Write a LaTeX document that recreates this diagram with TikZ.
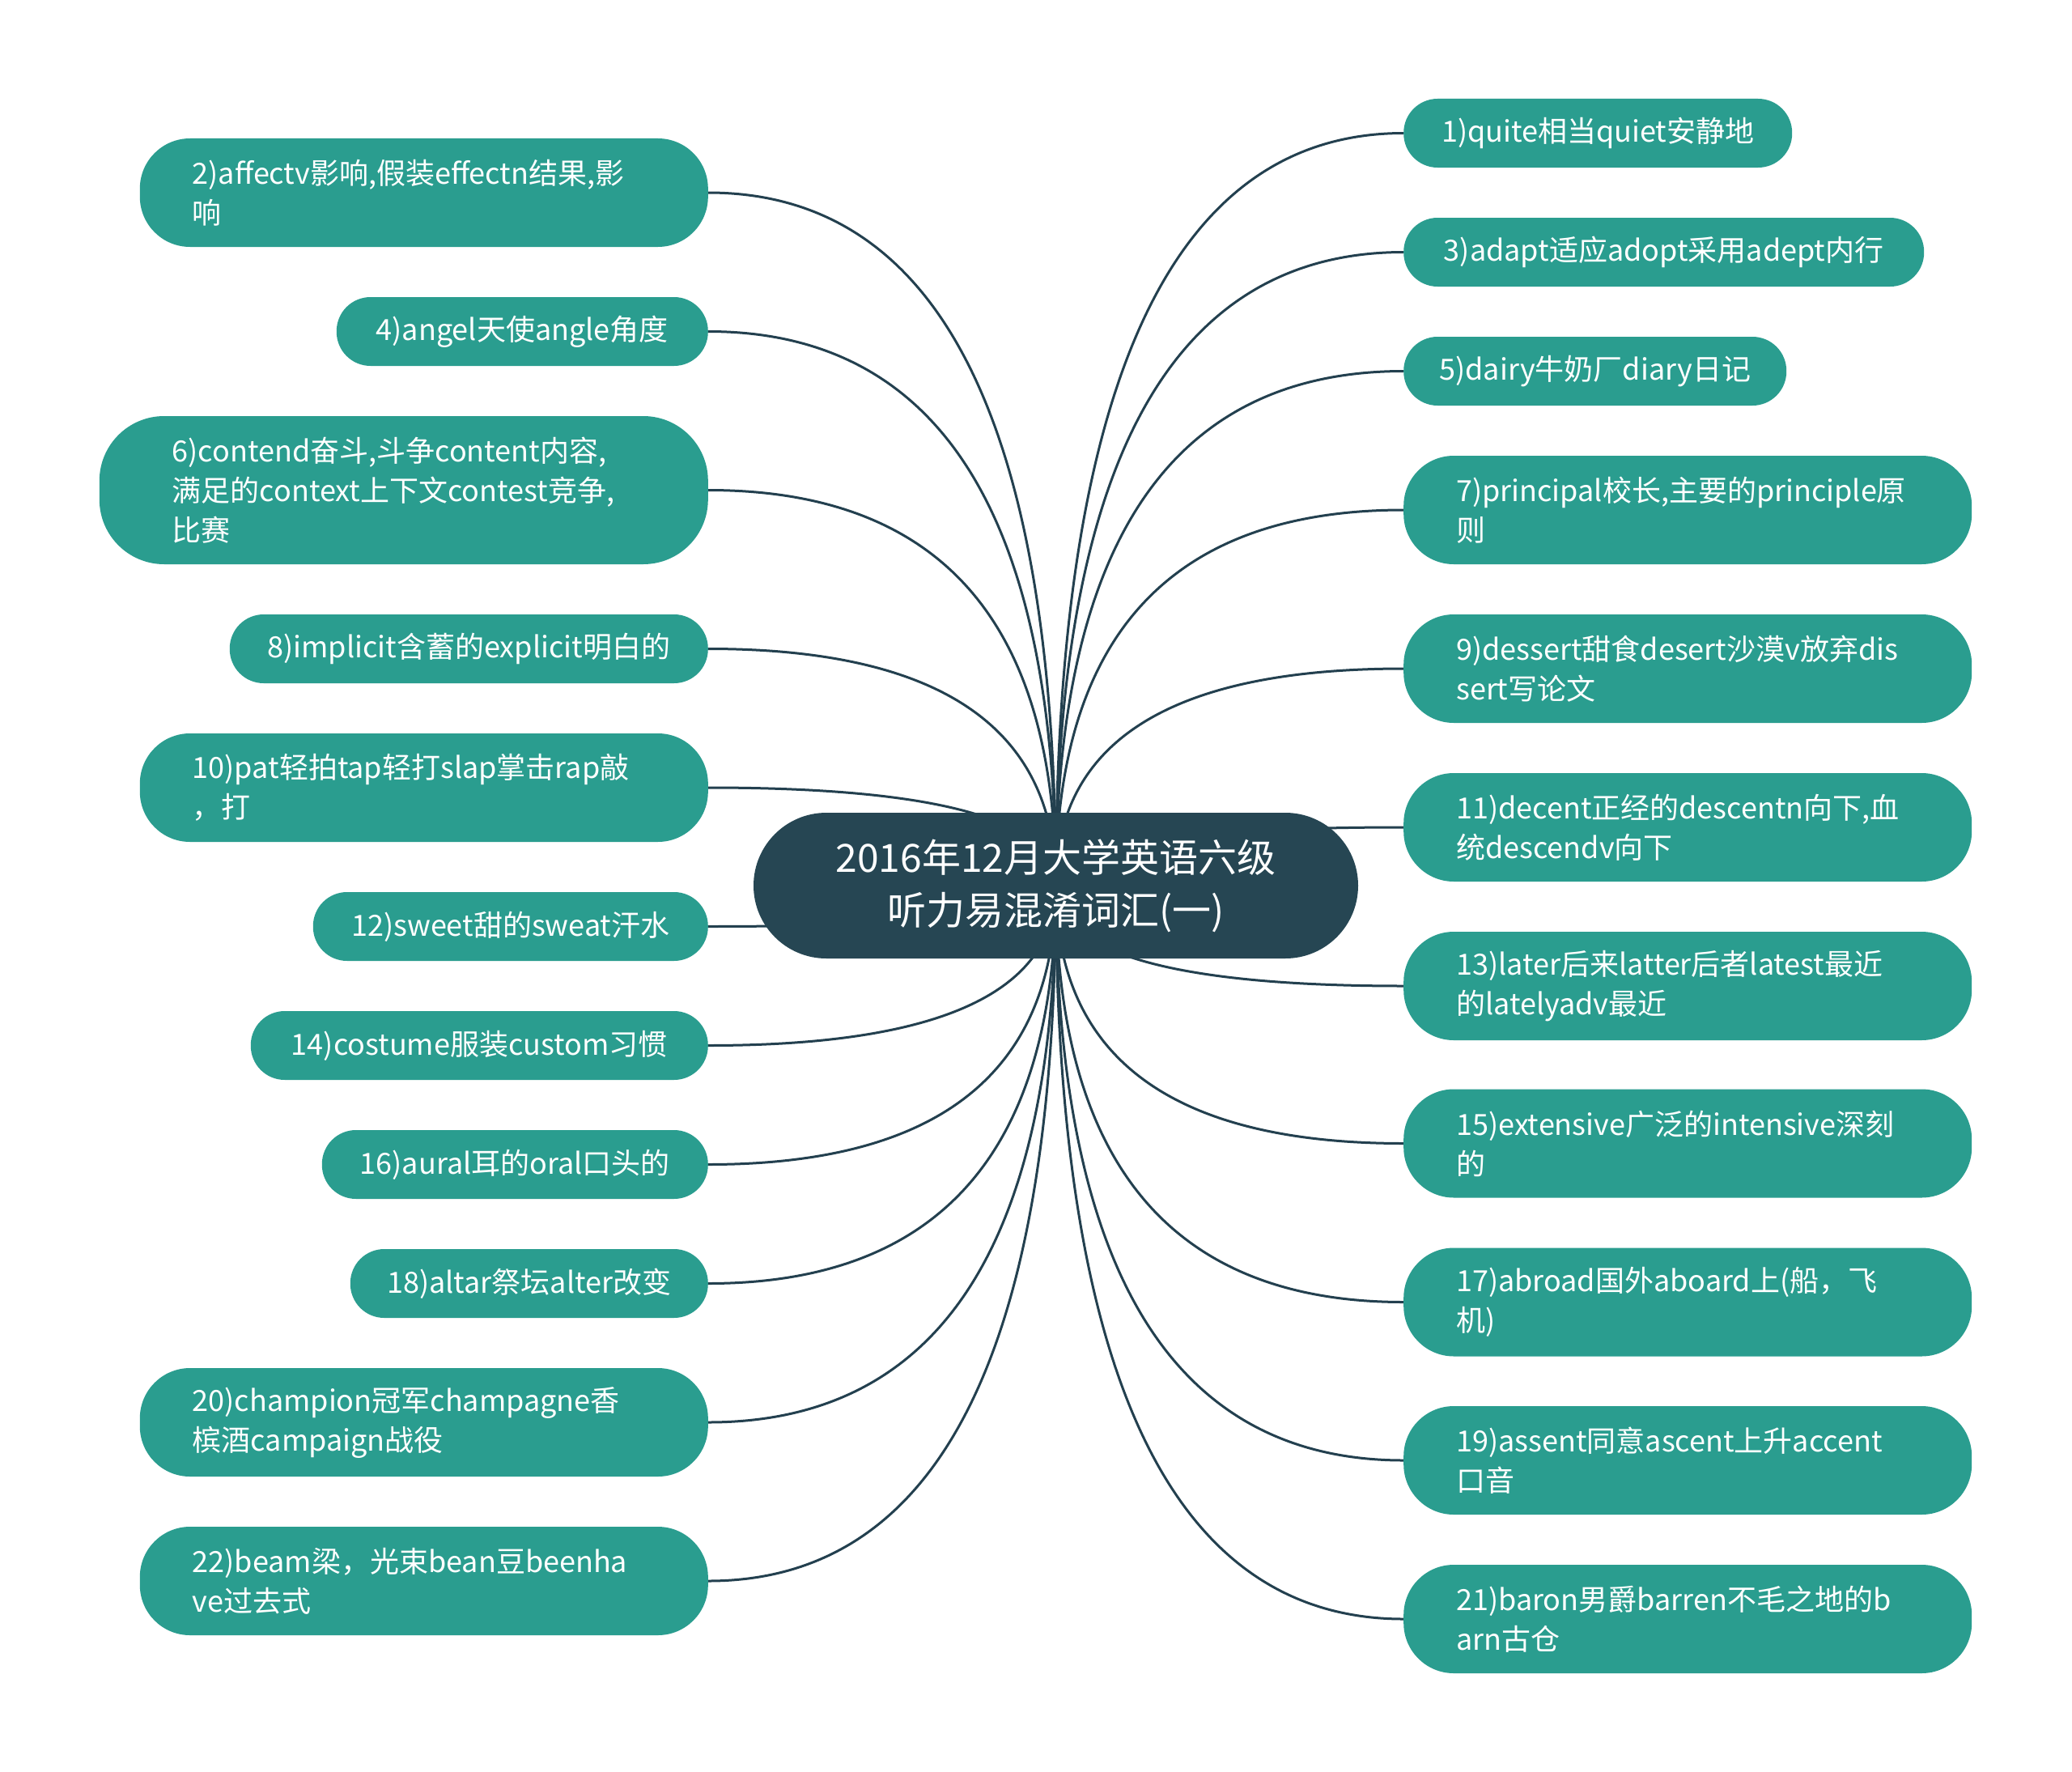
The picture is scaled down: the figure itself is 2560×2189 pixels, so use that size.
\documentclass[tikz,border=0pt]{standalone}
\usepackage{fontspec}
\newfontfamily\cjk{Noto Sans CJK SC}
\usetikzlibrary{backgrounds,calc}
\definecolor{leafteal}{HTML}{2A9D8F}
\definecolor{rootblue}{HTML}{264653}
\definecolor{linkcol}{HTML}{23404F}
\tikzset{
  leafbase/.style={fill=leafteal, text=white, inner ysep=0pt,
    font=\cjk\fontsize{36}{49}\selectfont},
  one/.style={leafbase, minimum height=85pt, rounded corners=42pt, align=center, inner xsep=0pt},
  two/.style={leafbase, minimum height=134pt, rounded corners=62pt, align=left, text width=572pt, inner xsep=65pt},
  three/.style={leafbase, minimum height=183pt, rounded corners=80pt, align=left, text width=572pt, inner xsep=90pt},
  rootnode/.style={fill=rootblue, text=white, minimum width=747pt, minimum height=180pt,
    rounded corners=90pt, align=center, inner sep=0pt,
    font=\cjk\fontsize{48}{65}\selectfont},
  conn/.style={draw=linkcol, line width=3pt}
}
\newcommand\linkto[1]{\draw[conn] (C.center) .. controls ($(C.center)!0.667!(C.center|-#1)$) and ($(#1)!0.667!(C.center|-#1)$) .. (#1);}
\begin{document}
\begin{tikzpicture}[x=1pt,y=-1pt]
\useasboundingbox (0,0) rectangle (2560,2189);
% root
\node[rootnode] (C) at (1304.5,1094) {2016年12月大学英语六级\\听力易混淆词汇(一)};
% left
\node[two, anchor=east] (L1) at (875,238) {2)affectv影响,假装effectn结果,影\\响};
\node[one, anchor=east, minimum width=459pt] (L2) at (875,409.5) {4)angel天使angle角度};
\node[three, anchor=east] (L3) at (875,605.5) {6)contend奋斗,斗争content内容,\\满足的context上下文contest竞争,\\比赛};
\node[one, anchor=east, minimum width=591pt] (L4) at (875,801.5) {8)implicit含蓄的explicit明白的};
\node[two, anchor=east] (L5) at (875,973) {10)pat轻拍tap轻打slap掌击rap敲\\，打};
\node[one, anchor=east, minimum width=488pt] (L6) at (875,1144.5) {12)sweet甜的sweat汗水};
\node[one, anchor=east, minimum width=565pt] (L7) at (875,1291.5) {14)costume服装custom习惯};
\node[one, anchor=east, minimum width=477pt] (L8) at (875,1438.5) {16)aural耳的oral口头的};
\node[one, anchor=east, minimum width=442pt] (L9) at (875,1585.5) {18)altar祭坛alter改变};
\node[two, anchor=east] (L10) at (875,1757) {20)champion冠军champagne香\\槟酒campaign战役};
\node[two, anchor=east] (L11) at (875,1953) {22)beam梁，光束bean豆beenha\\ve过去式};
% right
\node[one, anchor=west, minimum width=480pt] (R1) at (1734,164.5) {1)quite相当quiet安静地};
\node[one, anchor=west, minimum width=643pt] (R2) at (1734,311.5) {3)adapt适应adopt采用adept内行};
\node[one, anchor=west, minimum width=473pt] (R3) at (1734,458.5) {5)dairy牛奶厂diary日记};
\node[two, anchor=west] (R4) at (1734,630) {7)principal校长,主要的principle原\\则};
\node[two, anchor=west] (R5) at (1734,826) {9)dessert甜食desert沙漠v放弃dis\\sert写论文};
\node[two, anchor=west] (R6) at (1734,1022) {11)decent正经的descentn向下,血\\统descendv向下};
\node[two, anchor=west] (R7) at (1734,1218) {13)later后来latter后者latest最近\\的latelyadv最近};
\node[two, anchor=west] (R8) at (1734,1412.5) {15)extensive广泛的intensive深刻\\的};
\node[two, anchor=west] (R9) at (1734,1608.5) {17)abroad国外aboard上(船，飞\\机)};
\node[two, anchor=west] (R10) at (1734,1804) {19)assent同意ascent上升accent\\口音};
\node[two, anchor=west] (R11) at (1734,2000) {21)baron男爵barren不毛之地的b\\arn古仓};
% connectors
\begin{scope}[on background layer]
\fill[white] (0,0) rectangle (2560,2189);
\linkto{L1.east}\linkto{L2.east}\linkto{L3.east}\linkto{L4.east}
\linkto{L5.east}\linkto{L6.east}\linkto{L7.east}\linkto{L8.east}
\linkto{L9.east}\linkto{L10.east}\linkto{L11.east}
\linkto{R1.west}\linkto{R2.west}\linkto{R3.west}\linkto{R4.west}
\linkto{R5.west}\linkto{R6.west}\linkto{R7.west}\linkto{R8.west}
\linkto{R9.west}\linkto{R10.west}\linkto{R11.west}
\end{scope}
\end{tikzpicture}
\end{document}
